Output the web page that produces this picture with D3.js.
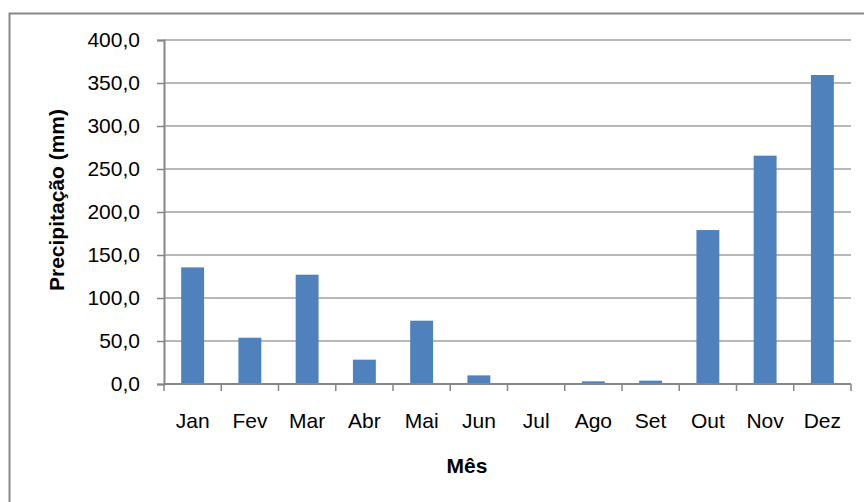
<!DOCTYPE html>
<html>
<head>
<meta charset="utf-8">
<script src="https://cdn.jsdelivr.net/npm/d3@7"></script>
<style>
  body { margin: 0; background: #fff; }
  text { font-family: Arial, "Liberation Sans", sans-serif; }
</style>
</head>
<body>
<div id="chart"></div>
<script>
// data
var months = ["Jan", "Fev", "Mar", "Abr", "Mai", "Jun", "Jul", "Ago", "Set", "Out", "Nov", "Dez"];
var precip = [135.6, 53.8, 127.1, 28.3, 73.6, 10.0, 0.0, 3.1, 3.9, 179.0, 265.5, 359.3];
var yTicks = [0, 50, 100, 150, 200, 250, 300, 350, 400];

var svg = d3.select("#chart")
  .append("svg")
  .attr("width", 864)
  .attr("height", 502);

// outer chart border (runs off the right and bottom edges)
svg.append("rect")
  .attr("x", 9.5)
  .attr("y", 13.5)
  .attr("width", 900)
  .attr("height", 520)
  .attr("fill", "none")
  .attr("stroke", "#878787")
  .attr("stroke-width", 2);

var plotLeft = 164, plotRight = 851, plotTop = 40, plotBottom = 384;

var x = d3.scaleBand()
  .domain(months)
  .range([plotLeft, plotRight])
  .paddingInner(0.6)
  .paddingOuter(0.3);

var y = d3.scaleLinear()
  .domain([0, 400])
  .range([plotBottom, plotTop]);

// gridlines
svg.append("g")
  .selectAll("line")
  .data(yTicks.slice(1))
  .enter()
  .append("line")
  .attr("x1", plotLeft)
  .attr("x2", plotRight)
  .attr("y1", d => y(d))
  .attr("y2", d => y(d))
  .attr("stroke", "#a0a0a0")
  .attr("stroke-width", 1.5);

// bars
svg.append("g")
  .selectAll("rect")
  .data(precip)
  .enter()
  .append("rect")
  .attr("x", (d, i) => x(months[i]))
  .attr("y", d => y(d))
  .attr("width", x.bandwidth())
  .attr("height", d => y(0) - y(d))
  .attr("fill", "#4f81bd");

// y axis
var yAxis = svg.append("g")
  .attr("transform", "translate(" + plotLeft + ",0)")
  .call(d3.axisLeft(y)
    .tickValues(yTicks)
    .tickSize(7)
    .tickPadding(17)
    .tickFormat(d => d3.format(".1f")(d).replace(".", ",")));
yAxis.select(".domain").attr("stroke", "#868686").attr("stroke-width", 2);
yAxis.selectAll(".tick line").attr("stroke", "#868686").attr("stroke-width", 1.5);
yAxis.selectAll("text")
  .attr("font-size", 21)
  .attr("font-family", "Arial, 'Liberation Sans', sans-serif")
  .attr("fill", "#000");

// x axis: labels from the band scale, ticks on category boundaries
var xAxis = svg.append("g")
  .attr("transform", "translate(0," + plotBottom + ")")
  .call(d3.axisBottom(x).tickSize(0).tickPadding(29));
xAxis.select(".domain").remove();
xAxis.selectAll("text")
  .attr("font-size", 21)
  .attr("font-family", "Arial, 'Liberation Sans', sans-serif")
  .attr("fill", "#000");

svg.append("line")
  .attr("x1", plotLeft)
  .attr("x2", plotRight)
  .attr("y1", plotBottom)
  .attr("y2", plotBottom)
  .attr("stroke", "#868686")
  .attr("stroke-width", 2);

svg.append("g")
  .selectAll("line")
  .data(d3.range(months.length + 1))
  .enter()
  .append("line")
  .attr("x1", i => plotLeft + i * x.step())
  .attr("x2", i => plotLeft + i * x.step())
  .attr("y1", plotBottom)
  .attr("y2", plotBottom + 7)
  .attr("stroke", "#868686")
  .attr("stroke-width", 1.5);

// axis titles
svg.append("text")
  .attr("x", 467)
  .attr("y", 473)
  .attr("text-anchor", "middle")
  .attr("font-size", 21)
  .attr("font-weight", "bold")
  .text("Mês");

svg.append("text")
  .attr("transform", "translate(64,200) rotate(-90)")
  .attr("text-anchor", "middle")
  .attr("font-size", 21)
  .attr("font-weight", "bold")
  .text("Precipitação (mm)");
</script>
</body>
</html>
